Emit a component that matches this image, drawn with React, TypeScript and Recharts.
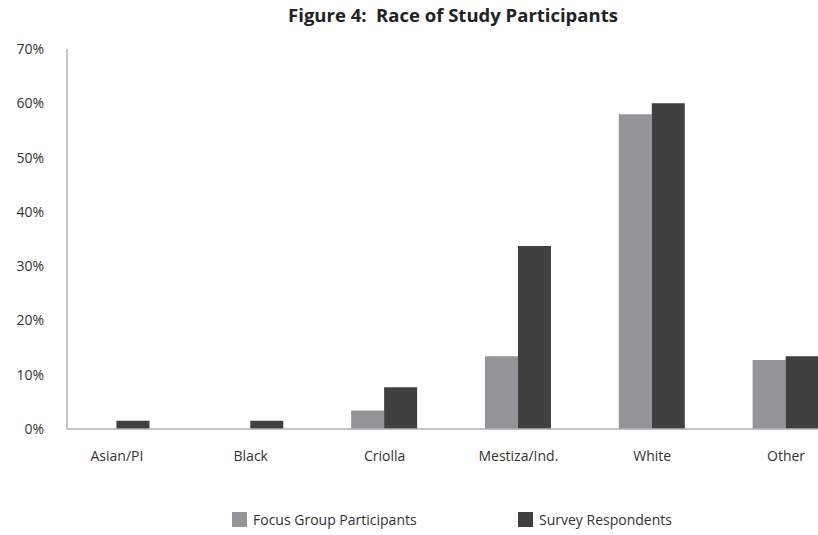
import React from 'react';
import { BarChart, Bar, XAxis, YAxis } from 'recharts';

const categories = ['Asian/PI', 'Black', 'Criolla', 'Mestiza/Ind.', 'White', 'Other'];
const focusGroup = [0, 0, 3.4, 13.4, 58.0, 12.7];
const survey = [1.5, 1.5, 7.7, 33.7, 60.0, 13.4];
const yTicks = [0, 10, 20, 30, 40, 50, 60, 70];

const FOCUS_COLOR = '#939598';
const SURVEY_COLOR = '#404040';
const FONT = '"Open Sans", "DejaVu Sans", sans-serif';

const data = categories.map((name, i) => ({
  name,
  focus: focusGroup[i],
  survey: survey[i],
}));

const legendItems = [
  { label: 'Focus Group Participants', color: FOCUS_COLOR, left: 232 },
  { label: 'Survey Respondents', color: SURVEY_COLOR, left: 518 },
];

const App: React.FC = () => {
  return (
    <div style={{ position: 'absolute', left: 0, top: 0, width: 818, height: 535, overflow: 'hidden', background: '#fff' }}>
      <div
        style={{
          position: 'absolute',
          top: 2,
          left: 453,
          transform: 'translateX(-50%)',
          whiteSpace: 'pre',
          fontFamily: FONT,
          fontWeight: 700,
          fontSize: 18.5,
          color: '#222',
        }}
      >
        {'Figure 4:  Race of Study Participants'}
      </div>
      <BarChart
        width={818}
        height={535}
        data={data}
        margin={{ top: 49, right: 0, left: 7, bottom: 76 }}
        barCategoryGap="25%"
        barGap={0}
      >
        <XAxis
          dataKey="name"
          height={30}
          padding={{ left: -17, right: -35 }}
          axisLine={{ stroke: '#b0b0b0', strokeWidth: 1.5 }}
          tickLine={false}
          tickSize={0}
          tickMargin={22}
          interval={0}
          tick={{ fill: '#333', fontSize: 14, fontFamily: FONT }}
        />
        <YAxis
          width={60}
          domain={[0, 70]}
          ticks={yTicks}
          interval={0}
          tickFormatter={(v: number) => `${v}%`}
          axisLine={{ stroke: '#b0b0b0', strokeWidth: 1.5 }}
          tickLine={false}
          tickSize={0}
          tickMargin={23}
          tick={{ fill: '#333', fontSize: 14, fontFamily: FONT }}
        />
        <Bar dataKey="focus" name="Focus Group Participants" fill={FOCUS_COLOR} isAnimationActive={false} />
        <Bar dataKey="survey" name="Survey Respondents" fill={SURVEY_COLOR} isAnimationActive={false} />
      </BarChart>
      {legendItems.map((item) => (
        <div
          key={item.label}
          style={{
            position: 'absolute',
            left: item.left,
            top: 510,
            display: 'flex',
            alignItems: 'center',
            fontFamily: FONT,
            fontSize: 14,
            color: '#333',
          }}
        >
          <span style={{ width: 15, height: 15, background: item.color, display: 'inline-block', marginRight: 6 }} />
          <span>{item.label}</span>
        </div>
      ))}
    </div>
  );
};

export default App;
